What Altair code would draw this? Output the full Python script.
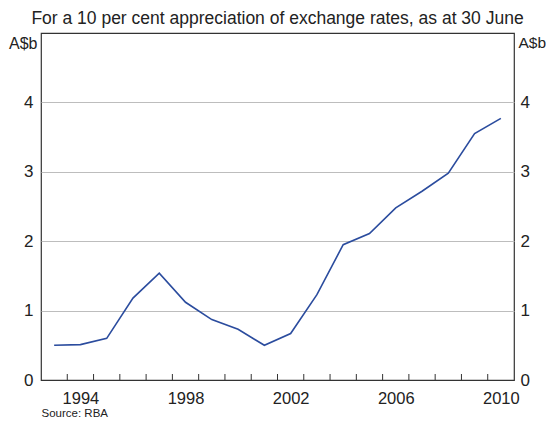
import altair as alt
import pandas as pd

years = list(range(1993, 2011))
values = [0.50, 0.51, 0.60, 1.18, 1.54, 1.12, 0.87, 0.73, 0.50, 0.67,
          1.23, 1.95, 2.11, 2.48, 2.72, 2.98, 3.55, 3.77]
tick_years = list(range(1994, 2011))
label_years = [1994, 1998, 2002, 2006, 2010]
y_values = [0, 1, 2, 3, 4, 5]

FONT = "Liberation Sans"
W, H = 473, 347
LBL = 17

df = pd.DataFrame({"x": [y + 0.5 for y in years], "v": values})
ticks_df = pd.DataFrame({"t": tick_years})

xscale = alt.Scale(domain=[1993, 2011], nice=False, zero=False)
yscale = alt.Scale(domain=[0, 5], nice=False)

x_axis = alt.Axis(
    values=[y + 0.5 for y in label_years],
    labelExpr="floor(datum.value)",
    ticks=False, domain=False, grid=False,
    labelFont=FONT, labelFontSize=16.5, labelColor="#222",
    labelPadding=10, labelFlush=False,
    title="Source: RBA", titleFont=FONT, titleFontSize=11.5,
    titleFontWeight="normal", titleColor="#222",
    titleAnchor="start", titleAlign="left", titleBaseline="alphabetic",
    titleX=0, titleY=36.5,
)

def y_axis(orient, pad, top_size, top_pad):
    return alt.Axis(
        orient=orient, values=y_values,
        labelExpr="datum.value == 5 ? 'A$b' : datum.value",
        labelBaseline={"condition": {"test": "datum.value == 5", "value": "top"}, "value": "middle"},
        labelOffset={"condition": {"test": "datum.value == 5", "value": 2}, "value": 0},
        labelFontSize={"condition": {"test": "datum.value == 5", "value": top_size}, "value": LBL},
        labelPadding={"condition": {"test": "datum.value == 5", "value": top_pad}, "value": pad},
        ticks=False, domain=False,
        grid=(orient == "left"),
        gridColor={"condition": {"test": "datum.value == 0 || datum.value == 5", "value": "transparent"}, "value": "#bdbdbd"},
        gridWidth=1,
        labelFont=FONT, labelColor="#222",
        labelFlush=False, title=None,
    )

line = alt.Chart(df).mark_line(color="#2b4c9e", strokeWidth=1.6).encode(
    x=alt.X("x:Q", scale=xscale, axis=x_axis),
    y=alt.Y("v:Q", scale=yscale, axis=y_axis("left", 8, 16, 4)),
)

right = alt.Chart(df).mark_line(opacity=0).encode(
    x=alt.X("x:Q", scale=xscale, axis=x_axis),
    y=alt.Y("v:Q", scale=yscale, axis=y_axis("right", 6, 15.5, 4)),
)

ticks = alt.Chart(ticks_df).mark_rule(color="#333", strokeWidth=1).encode(
    x=alt.X("t:Q", scale=xscale, axis=x_axis),
    y=alt.value(H),
    y2=alt.value(H - 6),
)

chart = alt.layer(line, ticks, right).resolve_scale(y="independent").properties(
    width=W, height=H,
    background="white",
    title=alt.TitleParams(
        "For a 10 per cent appreciation of exchange rates, as at 30 June",
        font=FONT, fontSize=17.5, fontWeight="normal", color="#222",
        anchor="middle", frame="group", offset=6,
    ),
    autosize=alt.AutoSizeParams(type="none"),
    padding={"left": 33, "top": 25, "right": 32, "bottom": 39},
).configure_view(stroke="#333", strokeWidth=1.2)

chart.save("out.html", embed_options={"renderer": "svg", "actions": False})
